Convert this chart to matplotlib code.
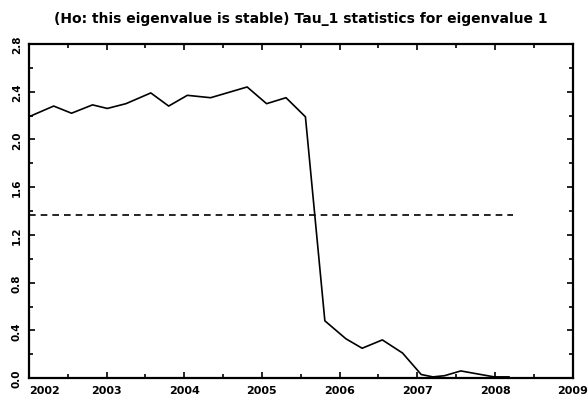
import matplotlib
matplotlib.use("Agg")
import matplotlib.pyplot as plt
from matplotlib.ticker import MultipleLocator

# tau_1 statistic over time (year fractions)
years = [2002.00, 2002.32, 2002.55, 2002.82, 2003.01, 2003.25, 2003.57, 2003.80,
         2004.04, 2004.19, 2004.34, 2004.81, 2005.06, 2005.31, 2005.56, 2005.81,
         2005.90, 2006.08, 2006.29, 2006.55, 2006.81, 2007.05, 2007.20, 2007.35,
         2007.56, 2007.73, 2007.99, 2008.18]
tau1 = [2.19, 2.28, 2.22, 2.29, 2.26, 2.30, 2.39, 2.28,
        2.37, 2.36, 2.35, 2.44, 2.30, 2.35, 2.19, 0.48,
        0.43, 0.33, 0.25, 0.32, 0.21, 0.03, 0.01, 0.02,
        0.06, 0.04, 0.01, 0.01]

crit_value = 1.366
crit_span = [2002.0, 2008.23]

year_ticks = [2002, 2003, 2004, 2005, 2006, 2007, 2008, 2009]
y_ticks = [0.0, 0.4, 0.8, 1.2, 1.6, 2.0, 2.4, 2.8]

fig = plt.figure(figsize=(5.88, 4.02), dpi=100)
ax = fig.add_axes([0.049, 0.057, 0.925, 0.831])

ax.plot(years, tau1, color="black", lw=1.2)
ax.plot(crit_span, [crit_value, crit_value], color="black", lw=1.2,
        linestyle=(0, (4, 3)))

ax.set_xlim(2002, 2009)
ax.set_ylim(0, 2.8)
ax.set_xticks(year_ticks)
ax.set_xticklabels([str(y) for y in year_ticks], fontsize=8, fontweight="bold")
ax.xaxis.set_minor_locator(MultipleLocator(0.5))
ax.set_yticks(y_ticks)
ax.set_yticklabels(["%.1f" % v for v in y_ticks], fontsize=7.5,
                   fontweight="bold", rotation=90, va="center")
ax.yaxis.set_minor_locator(MultipleLocator(0.2))
ax.get_xticklabels()[0].set_ha("left")

ax.tick_params(which="both", direction="in", top=True, right=True,
               labelright=False, labeltop=False, width=1.2)
ax.tick_params(which="major", length=4)
ax.tick_params(axis="x", which="major", pad=5)
ax.tick_params(axis="y", which="major", pad=5)
ax.tick_params(which="minor", length=3)
for s in ax.spines.values():
    s.set_linewidth(1.6)

ax.set_title("(Ho: this eigenvalue is stable) Tau_1 statistics for eigenvalue 1",
             fontsize=10, fontweight="bold", pad=16)

fig.savefig("out.png", dpi=100)
